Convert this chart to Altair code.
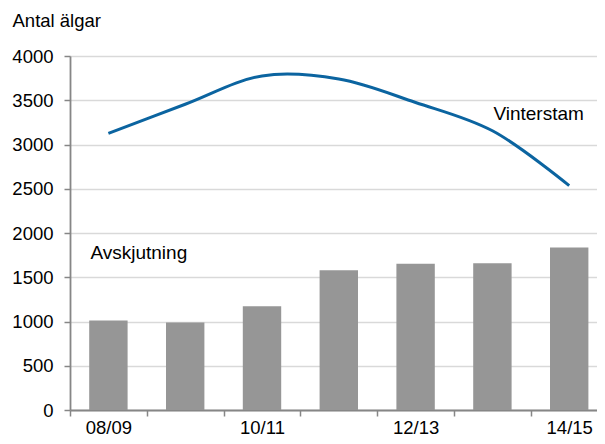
import altair as alt
import pandas as pd

seasons = ["08/09", "09/10", "10/11", "11/12", "12/13", "13/14", "14/15"]
avskjutning = [1010, 988, 1173, 1580, 1652, 1659, 1836]
vinterstam = [3125, 3455, 3775, 3740, 3475, 3155, 2535]
shown_labels = seasons[::2]
y_ticks = list(range(0, 4001, 500))

annot_text = ["Vinterstam", "Avskjutning"]
annot_season = ["13/14", "08/09"]
annot_value = [3275, 1705]
annot_dx = [1, -18]

df = pd.DataFrame({"season": seasons, "avskjutning": avskjutning, "vinterstam": vinterstam})
ann = pd.DataFrame({"text": annot_text, "season": annot_season, "value": annot_value})

FONT = "Liberation Sans"
AX = "#868686"

label_list = "[" + ",".join("'%s'" % s for s in shown_labels) + "]"

x_enc = alt.X(
    "season:N",
    sort=seasons,
    scale=alt.Scale(domain=seasons, range=[0, 537.6], paddingInner=0, paddingOuter=0),
    axis=alt.Axis(
        title=None,
        tickBand="extent",
        labelAngle=0,
        labelExpr="indexof(%s, datum.label) >= 0 ? datum.label : ''" % label_list,
        labelFont=FONT,
        labelFontSize=18.5,
        labelColor="#000000",
        labelPadding=2,
        labelOverlap=False,
        labelBound=False,
        tickSize=6,
        tickColor=AX,
        tickWidth=1.5,
        domainColor=AX,
        domainWidth=1.8,
        grid=False,
    ),
)

y_scale = alt.Scale(domain=[0, 4000], nice=False)
y_axis = alt.Axis(
    title="Antal älgar",
    titleAngle=0,
    titleAlign="left",
    titleBaseline="alphabetic",
    titleX=-58,
    titleY=-30,
    titleFont=FONT,
    titleFontSize=18.5,
    titleFontWeight="normal",
    titleColor="#000000",
    values=y_ticks,
    format="d",
    labelFont=FONT,
    labelFontSize=18.5,
    labelColor="#000000",
    labelPadding=11,
    tickSize=6,
    tickColor=AX,
    tickWidth=1.5,
    domainColor=AX,
    domainWidth=1.8,
    grid=True,
    gridColor="#d9d9d9",
    gridWidth=1.3,
)

bars = alt.Chart(df).mark_bar(color="#969696", width=alt.RelativeBandSize(0.5)).encode(
    x=x_enc,
    y=alt.Y("avskjutning:Q", scale=y_scale, axis=y_axis),
)

line = alt.Chart(df).mark_line(color="#0b64a0", strokeWidth=3, interpolate="catmull-rom").encode(
    x=alt.X("season:N", sort=seasons),
    y=alt.Y("vinterstam:Q", scale=y_scale),
)

t1 = alt.Chart(ann[ann.text == annot_text[0]]).mark_text(
    align="left", baseline="alphabetic", font=FONT, fontSize=19, color="#000000", dx=annot_dx[0]
).encode(x=alt.X("season:N", sort=seasons), y=alt.Y("value:Q", scale=y_scale), text="text:N")

t2 = alt.Chart(ann[ann.text == annot_text[1]]).mark_text(
    align="left", baseline="alphabetic", font=FONT, fontSize=19, color="#000000", dx=annot_dx[1]
).encode(x=alt.X("season:N", sort=seasons), y=alt.Y("value:Q", scale=y_scale), text="text:N")

chart = (
    alt.layer(bars, line, t1, t2)
    .properties(
        width=527,
        height=354,
        autosize=alt.AutoSizeParams(type="none"),
        padding={"left": 62, "top": 48, "right": 0, "bottom": 26},
    )
    .configure_view(stroke=None)
    .configure(background="white")
)

chart.save("out.html", embed_options={"renderer": "svg", "actions": False})
